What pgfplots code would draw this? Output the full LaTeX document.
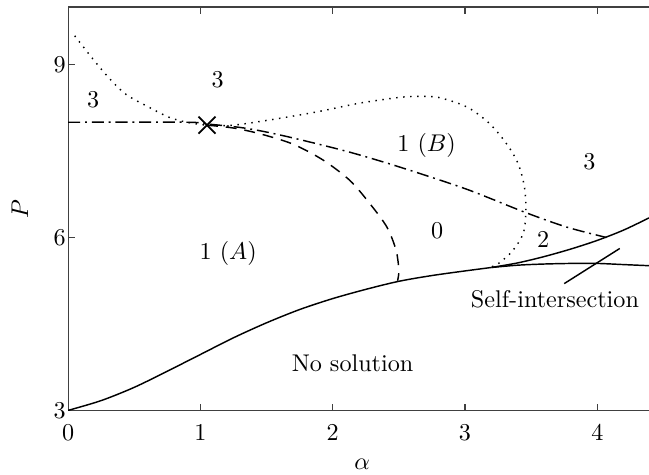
\documentclass[border=0pt]{standalone}
\usepackage{pgfplots}
\pgfplotsset{compat=1.18}

\begin{document}
\begin{tikzpicture}
\begin{axis}[
  name=ax,
  scale only axis,
  width=241pt, height=167pt,
  xmin=0, xmax=4.4, ymin=3, ymax=10,
  xtick={0,1,2,3,4}, ytick={3,6,9},
  ytick pos=left,
  tick align=inside,
  major tick length=2.8pt,
  axis line style={black!75, line width=0.5pt},
  tick style={black!75, line width=0.5pt},
  xticklabel style={yshift=-2.5pt},
  yticklabel style={xshift=2.5pt},
  xlabel={$\alpha$}, ylabel={$P$},
  xlabel style={at={(axis description cs:0.505,-0.134)}, anchor=center},
  ylabel style={at={(axis description cs:-0.083,0.5)}, anchor=center},
  clip=true,
]
% lower boundary (no solution below)
\addplot[black, line width=0.6pt, smooth] coordinates {
 (0,3.0) (0.25,3.17) (0.5,3.40) (0.75,3.68) (1.0,3.97) (1.25,4.26)
 (1.5,4.52) (1.75,4.75) (2.0,4.94) (2.25,5.10) (2.5,5.24)
 (2.75,5.34) (3.0,5.42) (3.2,5.48)};
% upper branch after the split
\addplot[black, line width=0.6pt, smooth] coordinates {
 (3.2,5.48) (3.4,5.56) (3.6,5.67) (3.8,5.8) (4.0,5.95) (4.2,6.13) (4.4,6.35)};
% lower branch after the split
\addplot[black, line width=0.6pt, smooth] coordinates {
 (3.2,5.48) (3.4,5.52) (3.6,5.54) (3.8,5.55) (4.0,5.55) (4.2,5.53) (4.4,5.51)};
% self-intersection pointer
\addplot[black, line width=0.6pt] coordinates {(3.75,5.20) (4.17,5.81)};
% dash-dot boundary
\addplot[black, line width=0.6pt, smooth, dash pattern=on 5pt off 2pt on 0.8pt off 2pt] coordinates {
 (0,8.0) (0.9,8.0) (1.05,7.97) (1.3,7.91) (1.5,7.83) (1.75,7.7) (2.13,7.48)
 (2.51,7.22) (3.01,6.84) (3.45,6.44) (3.77,6.18) (4.07,6.0)};
% dashed boundary
\addplot[black, line width=0.6pt, smooth, dash pattern=on 4.5pt off 3.3pt] coordinates {
 (1.05,7.95) (1.25,7.9) (1.45,7.8) (1.7,7.62) (1.93,7.34) (2.13,6.99)
 (2.28,6.59) (2.41,6.18) (2.48,5.77) (2.50,5.42) (2.49,5.25)};
% dotted boundary
\addplot[black, line width=0.6pt, smooth, dash pattern=on 0.6pt off 2.3pt] coordinates {
 (0.05,9.5) (0.19,9.09) (0.32,8.74) (0.44,8.48) (0.62,8.25) (0.77,8.08)
 (0.9,8.0) (1.05,7.95) (1.25,7.95) (1.55,8.05) (1.88,8.18) (2.2,8.33)
 (2.5,8.43) (2.65,8.45) (2.8,8.43) (3.01,8.27) (3.18,7.99) (3.31,7.64)
 (3.4,7.29) (3.45,6.87) (3.46,6.44) (3.44,6.07) (3.36,5.77) (3.26,5.56)
 (3.2,5.49)};
% meeting point
\addplot[black, only marks, mark=x, mark size=5pt, line width=0.75pt] coordinates {(1.05,7.95)};
% region labels
\node at (axis cs:0.19,8.39) {3};
\node at (axis cs:1.13,8.74) {3};
\node at (axis cs:2.71,7.60) {1 $(B)$};
\node at (axis cs:3.94,7.31) {3};
\node at (axis cs:2.79,6.12) {0};
\node at (axis cs:3.59,5.97) {2};
\node at (axis cs:1.21,5.72) {1 $(A)$};
\node at (axis cs:2.15,3.82) {No solution};
\node at (axis cs:3.68,4.92) {Self-intersection};
\end{axis}
\pgfresetboundingbox
\path ([xshift=-28.2pt,yshift=-26.6pt]ax.south west) rectangle ([xshift=-0.5pt,yshift=2.9pt]ax.north east);
\end{tikzpicture}
\end{document}
